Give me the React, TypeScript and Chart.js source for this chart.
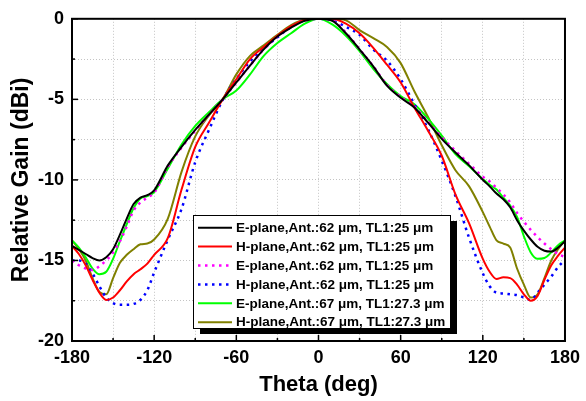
import React, { useEffect, useRef } from "react";
import { Chart, registerables } from "chart.js";

Chart.register(...registerables);

// Angle (deg)
const theta = [
  -180, -175, -170, -165, -160, -155, -150, -145, -140, -135, -130, -125, -120,
  -110, -100, -90, -80, -70, -60, -50, -40, -30, -20, -10, 0, 10, 20, 30, 40, 50, 60, 70, 80, 90, 100, 110,
  120, 125, 130, 135, 140, 145, 150, 155, 160, 165, 170, 175, 180,
];

// E-plane, Ant.:62 um, TL1:25 um (black, solid)
const ePlane62 = [
  -14.1, -14.35, -14.6, -14.85, -15.0, -14.8, -14.3, -13.4, -12.4, -11.5, -11.1, -10.95, -10.65,
  -9.1, -7.95, -6.9, -5.95, -5.0, -3.95, -2.9, -1.9, -1.1, -0.55, -0.12, 0, -0.12, -0.9, -1.9, -2.95, -4.15, -4.9, -5.5, -6.45, -7.45, -8.3, -9.1,
  -10.0, -10.4, -10.85, -11.2, -11.7, -12.5, -13.15, -13.7, -14.15, -14.4, -14.45, -14.2, -13.8,
];

// H-plane, Ant.:62 um, TL1:25 um (red, solid)
const hPlane62 = [
  -14.1, -14.6, -15.3, -16.2, -17.0, -17.45, -17.3, -16.85, -16.3, -15.85, -15.55, -15.2, -14.65,
  -13.6, -10.6, -7.95, -6.45, -5.0, -3.75, -2.5, -1.75, -1.05, -0.45, -0.08, 0, 0, -0.3, -0.9, -1.8, -2.85, -3.95, -5.5, -6.95, -8.5, -10.9, -12.7,
  -14.9, -15.7, -16.15, -16.05, -16.1, -16.5, -17.1, -17.5, -17.2, -16.2, -15.3, -14.7, -14.2,
];

// E-plane, Ant.:62 um, TL1:25 um (magenta, dotted)
const ePlane62b = [
  -15.0, -15.3, -15.5, -15.6, -15.35, -15.0, -14.5, -13.8, -12.9, -11.9, -11.4, -11.1, -10.8,
  -9.2, -8.0, -6.95, -5.95, -5.0, -3.95, -2.9, -1.9, -1.1, -0.5, -0.1, 0, -0.1, -0.85, -1.9, -2.95, -4.1, -4.85, -5.45, -6.4, -7.35, -8.2, -9.0,
  -9.8, -10.1, -10.5, -10.9, -11.4, -12.05, -12.6, -13.1, -13.55, -13.95, -14.3, -14.6, -14.8,
];

// H-plane, Ant.:62 um, TL1:25 um (blue, dotted)
const hPlane62b = [
  -15.0, -15.0, -15.2, -15.8, -16.6, -17.3, -17.65, -17.75, -17.75, -17.7, -17.45, -16.85, -15.75,
  -13.7, -11.8, -8.9, -6.9, -5.05, -3.75, -2.65, -1.85, -1.15, -0.5, -0.1, 0, -0.1, -0.5, -1.0, -1.9, -2.6, -3.75, -5.3, -6.85, -8.8, -11.0, -13.6,
  -15.8, -16.6, -17.0, -17.05, -17.1, -17.15, -17.3, -17.45, -17.0, -16.5, -16.0, -15.4, -14.95,
];

// E-plane, Ant.:67 um, TL1:27.3 um (green, solid)
const ePlane67 = [
  -13.75, -14.2, -14.8, -15.5, -15.85, -15.7, -14.9, -13.8, -12.75, -11.75, -11.15, -11.0, -10.75,
  -9.3, -7.8, -6.65, -5.8, -5.0, -4.45, -3.45, -2.3, -1.5, -0.9, -0.3, 0, -0.35, -1.05, -2.0, -3.1, -4.05, -4.8, -5.3, -6.2, -7.25, -8.4, -9.15,
  -9.95, -10.3, -10.6, -11.1, -11.6, -12.3, -13.5, -14.5, -14.9, -14.85, -14.5, -14.05, -13.75,
];

// H-plane, Ant.:67 um, TL1:27.3 um (olive, solid)
const hPlane67 = [
  -13.75, -14.3, -15.0, -16.1, -16.95, -17.1, -16.1, -15.15, -14.65, -14.3, -14.0, -13.95, -13.7,
  -12.4, -9.5, -7.3, -6.0, -5.0, -3.45, -2.3, -1.65, -1.0, -0.4, -0.05, 0, 0, -0.1, -0.7, -1.2, -1.75, -2.75, -4.5, -6.1, -7.85, -9.4, -10.4,
  -12.0, -12.9, -13.75, -13.95, -14.2, -15.5, -16.5, -17.3, -17.1, -16.1, -15.0, -14.3, -13.75,
];

const seriesLabels = [
  "E-plane,Ant.:62 μm, TL1:25 μm",
  "H-plane,Ant.:62 μm, TL1:25 μm",
  "E-plane,Ant.:62 μm, TL1:25 μm",
  "H-plane,Ant.:62 μm, TL1:25 μm",
  "E-plane,Ant.:67 μm, TL1:27.3 μm",
  "H-plane,Ant.:67 μm, TL1:27.3 μm",
];

const xTickValues = [-180, -150, -120, -90, -60, -30, 0, 30, 60, 90, 120, 150, 180];

const FONT = "'Liberation Sans', Arial, Helvetica, sans-serif";

const decorPlugin = {
  id: "decor",
  afterDraw(chart: any) {
    const { ctx, chartArea: a, scales } = chart;
    const xs = scales.x;
    const ys = scales.y;
    ctx.save();
    ctx.setLineDash([]);
    ctx.strokeStyle = "#000";
    ctx.lineWidth = 1.5;
    xs.ticks.forEach((t: any) => {
      const px = xs.getPixelForValue(t.value);
      const len = t.value % 60 === 0 ? 6 : 3;
      ctx.beginPath();
      ctx.moveTo(px, a.bottom);
      ctx.lineTo(px, a.bottom - len);
      ctx.stroke();
    });
    ys.ticks.forEach((t: any) => {
      const py = ys.getPixelForValue(t.value);
      const len = t.value % 5 === 0 ? 6 : 3;
      ctx.beginPath();
      ctx.moveTo(a.left, py);
      ctx.lineTo(a.left + len, py);
      ctx.stroke();
    });
    ctx.lineWidth = 2;
    ctx.strokeRect(a.left, a.top, a.right - a.left, a.bottom - a.top);

    // legend box with shadow
    const L = { x: 193, y: 215, w: 257, h: 113 };
    ctx.fillStyle = "#000";
    ctx.fillRect(L.x + 7, L.y + 6, L.w, L.h);
    ctx.fillStyle = "#fff";
    ctx.fillRect(L.x, L.y, L.w, L.h);
    ctx.lineWidth = 1;
    ctx.strokeStyle = "#000";
    ctx.strokeRect(L.x + 0.5, L.y + 0.5, L.w, L.h);
    chart.data.datasets.forEach((ds: any, i: number) => {
      const yy = L.y + 12.7 + i * 18.9;
      ctx.beginPath();
      ctx.setLineDash(ds.borderDash || []);
      ctx.strokeStyle = ds.borderColor;
      ctx.lineWidth = ds.borderWidth;
      ctx.moveTo(198, yy);
      ctx.lineTo(232, yy);
      ctx.stroke();
      ctx.setLineDash([]);
      ctx.fillStyle = "#000";
      ctx.font = `bold 13.5px ${FONT}`;
      ctx.textBaseline = "middle";
      ctx.textAlign = "left";
      ctx.fillText(ds.label, 236, yy + 0.5);
    });
    ctx.restore();
  },
};

export default function App() {
  const ref = useRef<HTMLCanvasElement | null>(null);

  useEffect(() => {
    if (!ref.current) return;
    const mk = (label: string, data: number[], color: string, dotted: boolean) => ({
      label,
      data: theta.map((t, i) => ({ x: t, y: data[i] })),
      borderColor: color,
      backgroundColor: color,
      borderWidth: dotted ? 2.5 : 2,
      borderDash: dotted ? [2.5, 4.5] : [],
      pointRadius: 0,
      fill: false,
      cubicInterpolationMode: "monotone" as const,
    });
    const chart = new Chart(ref.current, {
      type: "line",
      data: {
        datasets: [
          mk(seriesLabels[0], ePlane62, "#000000", false),
          mk(seriesLabels[1], hPlane62, "#ff0000", false),
          mk(seriesLabels[2], ePlane62b, "#ff00ff", true),
          mk(seriesLabels[3], hPlane62b, "#0000ff", true),
          mk(seriesLabels[4], ePlane67, "#00ff00", false),
          mk(seriesLabels[5], hPlane67, "#808000", false),
        ],
      },
      options: {
        animation: false,
        responsive: false,
        devicePixelRatio: 1,
        layout: { padding: { left: 0, right: 16, top: 17, bottom: 0 } },
        plugins: { legend: { display: false }, tooltip: { enabled: false } },
        scales: {
          x: {
            type: "linear",
            min: -180,
            max: 180,
            afterFit: (s: any) => {
              s.height = 60;
            },
            afterBuildTicks: (s: any) => {
              s.ticks = xTickValues.map((v) => ({ value: v }));
            },
            ticks: {
              autoSkip: false,
              maxRotation: 0,
              padding: 6,
              color: "#000",
              font: { family: FONT, size: 18, weight: "bold" },
              callback: (v: any) => (Number(v) % 60 === 0 ? String(v) : ""),
            },
            grid: { color: "#c4c4c4", lineWidth: 1, drawTicks: false },
            border: { display: false, dash: [1, 2] },
            title: {
              display: true,
              text: "Theta (deg)",
              color: "#000",
              font: { family: FONT, size: 22, weight: "bold" },
              padding: { top: 0, bottom: 3 },
            },
          },
          y: {
            type: "linear",
            min: -20,
            max: 0,
            afterFit: (s: any) => {
              s.width = 72;
            },
            ticks: {
              stepSize: 2.5,
              padding: 8,
              color: "#000",
              font: { family: FONT, size: 18, weight: "bold" },
              callback: (v: any) => (Number(v) % 5 === 0 ? String(Number(v) === 0 ? 0 : v) : ""),
            },
            grid: { color: "#c4c4c4", lineWidth: 1, drawTicks: false },
            border: { display: false, dash: [1, 2] },
            title: {
              display: true,
              text: "Relative Gain (dBi)",
              color: "#000",
              font: { family: FONT, size: 23, weight: "bold" },
              padding: { top: 8, bottom: 0 },
            },
          },
        },
      } as any,
      plugins: [decorPlugin],
    });
    return () => chart.destroy();
  }, []);

  return (
    <div style={{ position: "absolute", left: 0, top: 0, width: 586, height: 401, background: "#fff" }}>
      <canvas ref={ref} width={586} height={401} style={{ display: "block" }} />
    </div>
  );
}
